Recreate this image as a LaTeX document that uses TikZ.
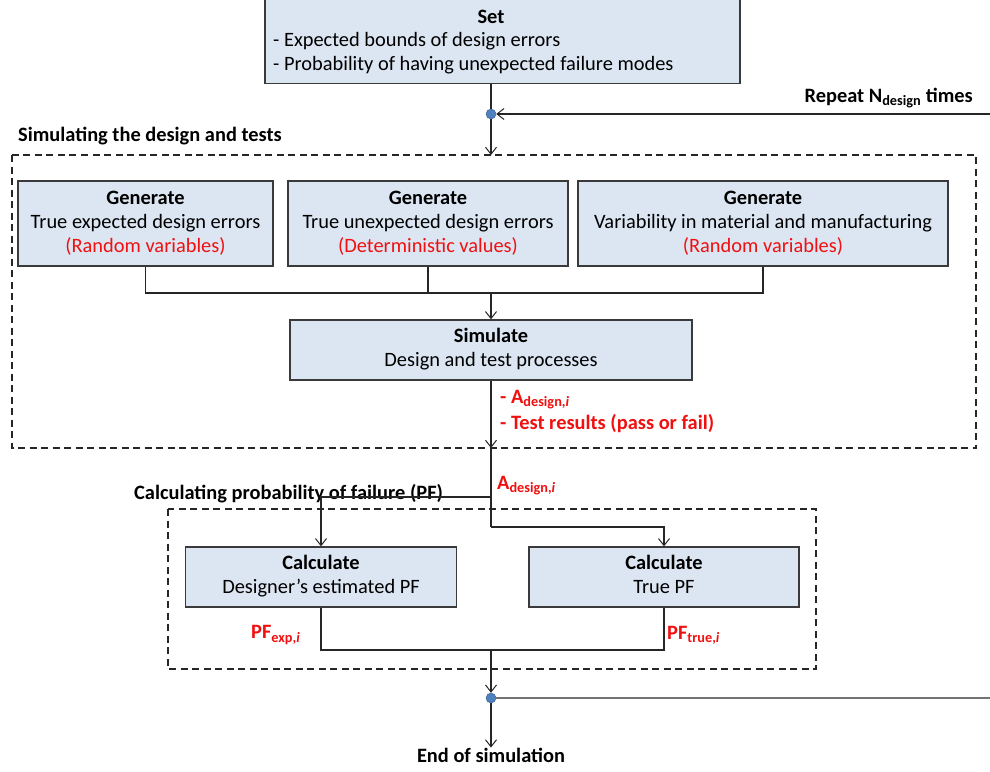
\documentclass[tikz,border=0pt]{standalone}
\usepackage{fontspec}
\setmainfont{Carlito}
\usetikzlibrary{arrows.meta}
\definecolor{boxfill}{HTML}{DCE6F2}
\definecolor{boxdraw}{HTML}{3A3A3A}
\definecolor{dotblue}{HTML}{4F81BD}
\definecolor{lblred}{HTML}{F01010}
\newcommand{\fs}{\fontsize{20.4}{24}\selectfont}
\begin{document}
\begin{tikzpicture}[x=1pt,y=-1pt,
  every node/.style={font=\fs, inner sep=0pt},
  box/.style={draw=boxdraw, line width=1.3pt, fill=boxfill, align=center},
  conn/.style={line width=1.1pt, draw=black!85},
  arr/.style={conn, -{Straight Barb[length=7pt,width=11pt,line width=1pt]}},
  dashbox/.style={draw=black!85, line width=1.5pt, dash pattern=on 7pt off 4.5pt},
  jdot/.style={circle, fill=dotblue, draw=dotblue!80!black, line width=0.5pt, minimum size=10pt},
  lbl/.style={font=\fs\bfseries, text=lblred, anchor=west},
  ttl/.style={font=\fs\bfseries, anchor=west}]
\useasboundingbox (0,0) rectangle (990,771);

% dashed group frames
\draw[dashbox] (12,155) rectangle (976,448);
\draw[dashbox] (168,509) rectangle (816,669);

% Set box
\node[box, minimum width=475pt, minimum height=87pt] (set) at (502.5,40) {};
\node[font=\fs\bfseries] (settitle) at (491,17) {Set};
\node[anchor=west] (set1) at (273,41) {- Expected bounds of design errors};
\node[anchor=west] (set2) at (273,65) {- Probability of having unexpected failure modes};

% junction 1 and repeat
\node[jdot] (dot1) at (491,114) {};
\coordinate (repR) at (992,114);
\coordinate (b1top) at (491,155);
\node[ttl, anchor=east] (rep) at (973,98) {Repeat N\textsubscript{design} times};
\node[ttl] (simttl) at (18,136) {Simulating the design and tests};

\draw[conn] (set.south -| dot1) -- (dot1);
\draw[arr] (dot1) -- (b1top);
\draw[line width=2pt, draw=black!85, -{Straight Barb[length=7pt,width=11pt,line width=1pt]}] (repR) -- (dot1);

% Generate boxes
\node[box, minimum width=255pt, minimum height=85pt] (gen1) at (145.5,223.5)
  {\textbf{Generate}\\True expected design errors\\\textcolor{lblred}{(Random variables)}};
\node[box, minimum width=280pt, minimum height=85pt] (gen2) at (428,223.5)
  {\textbf{Generate}\\True unexpected design errors\\\textcolor{lblred}{(Deterministic values)}};
\node[box, minimum width=370pt, minimum height=85pt] (gen3) at (763,223.5)
  {\textbf{Generate}\\Variability in material and manufacturing\\\textcolor{lblred}{(Random variables)}};

\node[box, minimum width=402pt, minimum height=60pt] (sim) at (491,350)
  {\strut\textbf{Simulate}\\Design and test processes\strut};

\coordinate (m) at (491,293);
\draw[conn] (gen1.south) |- (m) -| (gen3.south);
\draw[conn] (gen2.south) -- (gen2.south |- m);
\draw[arr] (m) -- (sim.north);

% outputs of simulate
\node[lbl] (out1) at (500,400) {- A\textsubscript{design,\textit{i}}};
\node[lbl] (out2) at (500,424) {- Test results (pass or fail)};
\coordinate (b1bot) at (491,448);
\draw[arr] (sim.south) -- (b1bot);

% calculating section
\node[ttl] (calcttl) at (134,494) {Calculating probability of failure (PF)};
\node[lbl] (adesign) at (497,486) {A\textsubscript{design,\textit{i}}};

\node[box, minimum width=271pt, minimum height=60pt] (calc1) at (321,577)
  {\strut\textbf{Calculate}\\Designer’s estimated PF\strut};
\node[box, minimum width=270pt, minimum height=60pt] (calc2) at (664,577)
  {\strut\textbf{Calculate}\\True PF\strut};

\coordinate (s1) at (491,497);
\coordinate (s2) at (491,527);
\draw[conn] (b1bot) -- (s2);
\draw[arr] (s1) -| (calc1.north);
\draw[arr] (s2) -| (calc2.north);

\node[lbl] (pfexp) at (251,635) {PF\textsubscript{exp,\textit{i}}};
\node[lbl] (pftrue) at (667,635) {PF\textsubscript{true,\textit{i}}};

\coordinate (j) at (491,650);
\draw[conn] (calc1.south) |- (j) -| (calc2.south);

\node[jdot] (dot2) at (491,698) {};
\draw[arr] (j) -- (dot2);
\coordinate (loopR) at (992,698);
\draw[line width=2pt, draw=black!55] (dot2) -- (loopR);

\node[font=\fs\bfseries] (endsim) at (491,755) {End of simulation};
\draw[arr] (dot2) -- (endsim.north);
\end{tikzpicture}
\end{document}
